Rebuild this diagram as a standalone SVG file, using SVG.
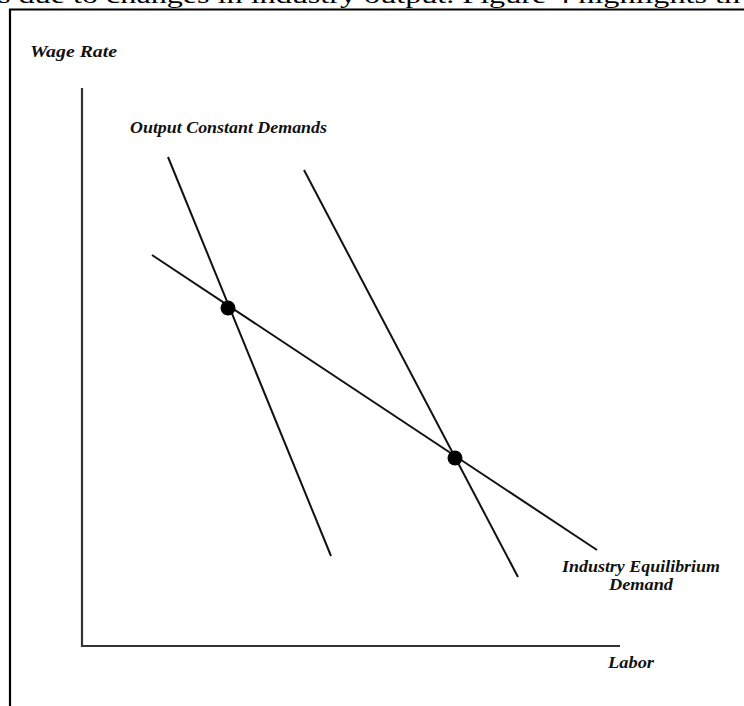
<svg xmlns="http://www.w3.org/2000/svg" width="744" height="706" viewBox="0 0 744 706">
<style>
.lbl{font-family:"Liberation Serif","Times New Roman",serif;font-weight:bold;font-style:italic;font-size:16.5px;fill:#111}
.ln{stroke:#111;stroke-width:2;fill:none;stroke-linecap:butt}
.ax{stroke:#333;stroke-width:2.2;fill:none}
.dot{fill:#000}
</style>
<rect width="744" height="706" fill="#fff"/>
<text x="-2" y="3" font-family="Liberation Serif, Times New Roman, serif" font-size="24" fill="#000" textLength="742" lengthAdjust="spacingAndGlyphs">s due to changes in industry output. Figure 4 highlights th</text>
<path d="M10,706 V9.5 H744" stroke="#000" stroke-width="2.2" fill="none"/>
<g id="axes">
<path class="ax" d="M82,88 V646 H620"/>
</g>
<g id="labels">
<text class="lbl" x="30" y="57" textLength="87" lengthAdjust="spacingAndGlyphs">Wage Rate</text>
<text class="lbl" x="130" y="133" textLength="197" lengthAdjust="spacingAndGlyphs">Output Constant Demands</text>
<text class="lbl" x="562" y="572" textLength="158" lengthAdjust="spacingAndGlyphs">Industry Equilibrium</text>
<text class="lbl" x="609" y="590" textLength="64" lengthAdjust="spacingAndGlyphs">Demand</text>
<text class="lbl" x="608" y="668" textLength="46" lengthAdjust="spacingAndGlyphs">Labor</text>
</g>
<g id="connectors">
<line class="ln" x1="168" y1="157" x2="331" y2="556"/>
<line class="ln" x1="304" y1="170" x2="518" y2="577"/>
<line class="ln" x1="152" y1="255" x2="597" y2="550"/>
</g>
<g id="point1"><circle class="dot" cx="228" cy="308" r="7.5"/></g>
<g id="point2"><circle class="dot" cx="455" cy="458" r="7.5"/></g>
</svg>
